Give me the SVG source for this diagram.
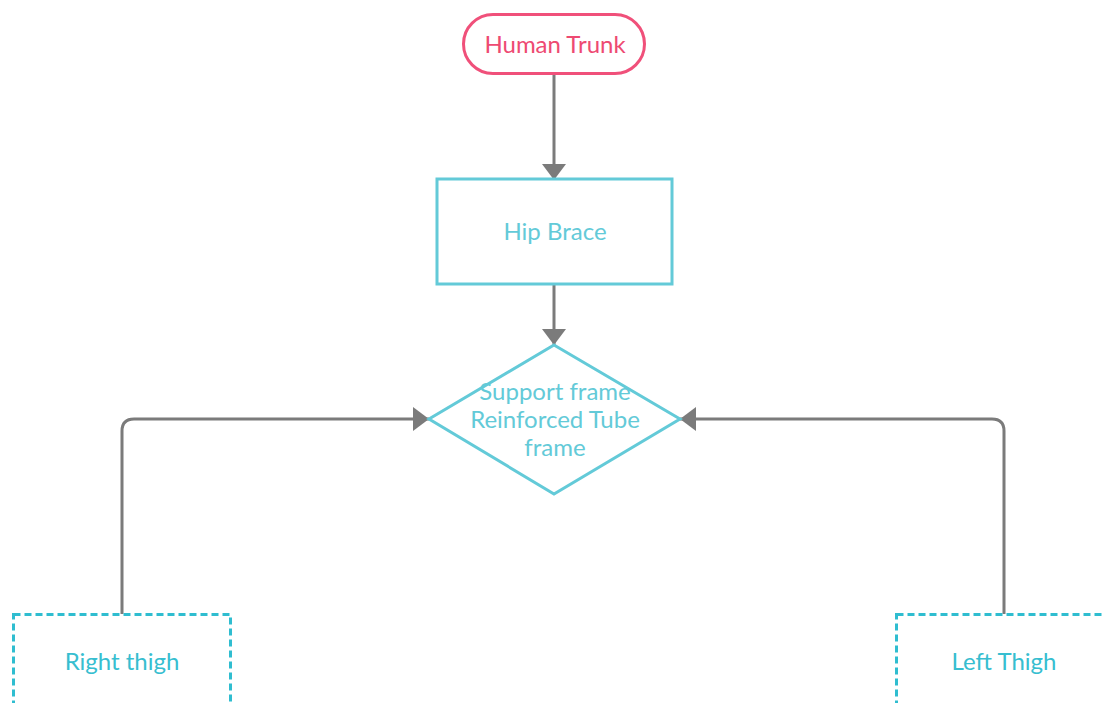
<svg xmlns="http://www.w3.org/2000/svg" width="1102" height="703" viewBox="0 0 1102 703">
<defs>
<style>
.lbl{font-family:Lato,"Open Sans","Liberation Sans",sans-serif;font-size:24px;text-anchor:middle;dominant-baseline:central}
.conn{fill:none;stroke:#7b7b7b;stroke-width:3}
.solid{fill:#fff;stroke:#63cad8;stroke-width:3}
.dash{fill:#fff;stroke:#2fbdd0;stroke-width:3;stroke-dasharray:7 4}
</style>
<marker id="ah" viewBox="0 0 16 24" refX="16" refY="12" markerWidth="16" markerHeight="24" markerUnits="userSpaceOnUse" orient="auto">
<path d="M0,0 L16,12 L0,24 Z" fill="#7b7b7b"/>
</marker>
</defs>
<rect width="1102" height="703" fill="#fff"/>
<g id="connectors">
<path class="conn" d="M554,74 V180" marker-end="url(#ah)"/>
<path class="conn" d="M554,284 V345" marker-end="url(#ah)"/>
<path class="conn" d="M122,614 V431 Q122,419 134,419 H429" marker-end="url(#ah)"/>
<path class="conn" d="M1004,614 V431 Q1004,419 992,419 H680" marker-end="url(#ah)"/>
</g>
<g id="human-trunk">
<rect x="463.5" y="14.5" width="181" height="59" rx="29.5" fill="#fff" stroke="#f0507a" stroke-width="3"/>
<text class="lbl" x="555" y="43.5" fill="#ee4a72">Human Trunk</text>
</g>
<g id="hip-brace">
<rect class="solid" x="437" y="179" width="235" height="105"/>
<text class="lbl" x="555" y="230.5" fill="#63cad8">Hip Brace</text>
</g>
<g id="support-frame">
<path class="solid" d="M554,345 L680,419 L554,494 L429,419 Z"/>
<text class="lbl" x="555" y="390.5" fill="#63cad8">Support frame</text>
<text class="lbl" x="555" y="418" fill="#63cad8">Reinforced Tube</text>
<text class="lbl" x="555" y="446" fill="#63cad8">frame</text>
</g>
<g id="right-thigh">
<rect class="dash" x="13.5" y="614.5" width="217" height="110"/>
<text class="lbl" x="122" y="660.5" fill="#37bed0">Right thigh</text>
</g>
<g id="left-thigh">
<rect class="dash" x="896.5" y="614.5" width="217" height="110"/>
<text class="lbl" x="1004" y="660.5" fill="#37bed0">Left Thigh</text>
</g>
</svg>
